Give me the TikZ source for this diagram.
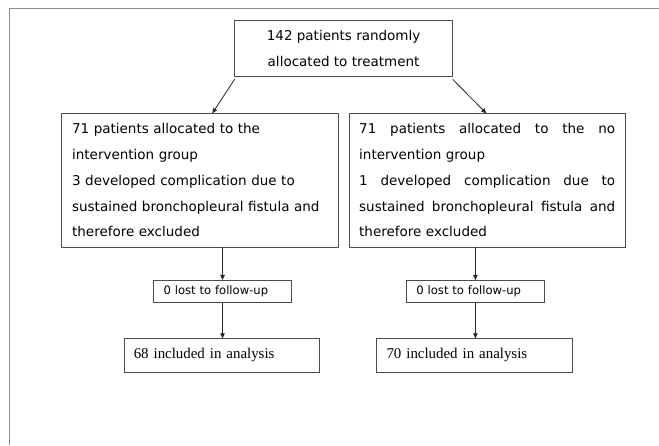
\documentclass[tikz,border=0pt]{standalone}
\usepackage{fontspec}
\setmainfont{DejaVu Sans}
\newfontfamily\timesfont{Liberation Serif}
\usetikzlibrary{arrows.meta}

\newcommand{\jline}[1]{\leavevmode\hbox to 256pt{#1}}

\tikzset{
  box/.style={draw=black!70, line width=0.8pt, inner sep=0pt, outer sep=0pt},
  bigbox/.style={box, minimum width=276.5pt, minimum height=133.7pt, text width=256pt,
                 align=left, font=\fontsize{13.5}{25.8}\selectfont},
  lostbox/.style={box, minimum width=138pt, minimum height=22.7pt, text width=118pt,
                  align=left, font=\fontsize{11.6}{13}\selectfont},
  anbox/.style={box, minimum width=195.7pt, minimum height=34pt, text width=176pt,
                align=left, font=\timesfont\fontsize{14.9}{16}\selectfont},
  arr/.style={draw=black!85, line width=0.8pt, -{Triangle[length=5pt, width=4.5pt]}}
}

\begin{document}
\begin{tikzpicture}[x=1pt, y=-1pt]
    \useasboundingbox (0,0) rectangle (659,445);
    % outer frame
    \draw[black!45, line width=1pt] (9.2,445) -- (9.2,8.3) -- (659,8.3);

    \node[box, minimum width=218pt, minimum height=56.7pt, align=center,
          font=\fontsize{13.5}{25.8}\selectfont] (rand) at (343.6,48.3)
          {142 patients randomly\\allocated to treatment};

    \node[bigbox] (interv) at (200.1,180.2)
          {71 patients allocated to the\\intervention group\\3 developed complication due to\\sustained bronchopleural fistula and\\therefore excluded};
    \node[bigbox] (nointerv) at (487.2,180.2)
          {\jline{71\hfil patients\hfil allocated\hfil to\hfil the\hfil no}\\intervention group\\\jline{1\hfil developed\hfil complication\hfil due\hfil to}\\\jline{sustained\hfil bronchopleural\hfil fistula\hfil and}\\therefore excluded};

    \node[lostbox] (lostl) at (222.55,291.3) {0 lost to follow-up};
    \node[lostbox] (lostr) at (475.4,291.3) {0 lost to follow-up};

    \node[anbox] (anl) at (221.75,355.3) {68 included in analysis};
    \node[anbox] (anr) at (474.5,355.3) {70 included in analysis};

    \draw[arr] ([yshift=-2.6pt]rand.south west) -- ([xshift=12.2pt]interv.north);
    \draw[arr] ([yshift=-2.6pt]rand.south east) -- ([xshift=-0.9pt]nointerv.north);
    \draw[arr] (lostl.north |- interv.south) -- (lostl.north);
    \draw[arr] (lostr.north |- nointerv.south) -- (lostr.north);
    \draw[arr] (lostl.south) -- (lostl.south |- anl.north);
    \draw[arr] (lostr.south) -- (lostr.south |- anr.north);
  \end{tikzpicture}
\end{document}
